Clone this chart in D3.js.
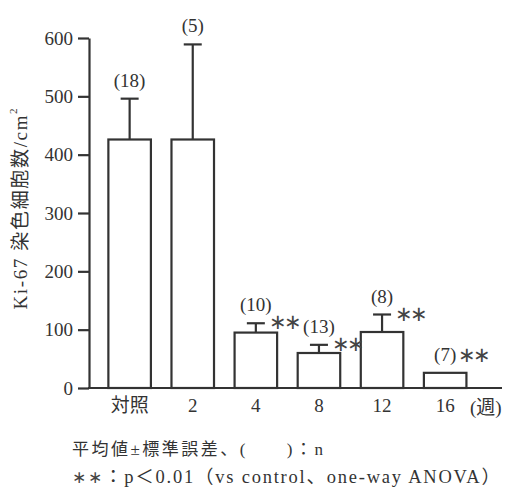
<!DOCTYPE html>
<html>
<head>
<meta charset="utf-8">
<script src="https://cdn.jsdelivr.net/npm/d3@7"></script>
<style>
  html, body { margin: 0; padding: 0; background: #fff; }
  svg { display: block; }
  text { fill: #333; font-family: "Liberation Serif", "Noto Sans CJK JP", serif; }
</style>
</head>
<body>
<div id="chart"></div>
<script>
// Ki-67 positive cell counts per cm² by treatment period
const categories = ["対照", "2", "4", "8", "12", "16"];
const means      = [426, 426, 95, 60, 96, 26];
const sem        = [70, 163, 16, 14, 30, 0];
const nLabels    = ["(18)", "(5)", "(10)", "(13)", "(8)", "(7)"];
const significant = [false, false, true, true, true, true];
const yTicks     = [0, 100, 200, 300, 400, 500, 600];

const W = 509, H = 488;
const plotLeft = 89, plotTop = 38, plotBottom = 388, axisEnd = 502;
const ink = "#333";
const serif = "Liberation Serif, Noto Sans CJK JP, serif";

const svg = d3.select("#chart").append("svg")
  .attr("width", W).attr("height", H);

const y = d3.scaleLinear().domain([0, 600]).range([plotBottom, plotTop]);
const x = d3.scaleBand().domain(categories)
  .range([plotLeft, 485.8]).paddingInner(0.326).paddingOuter(0.307);
const cx = d => x(d.cat) + x.bandwidth() / 2;

const rows = categories.map((c, i) => ({
  cat: c, mean: means[i], sem: sem[i], n: nLabels[i], sig: significant[i]
}));

// y axis
const yAxis = svg.append("g")
  .attr("transform", `translate(${plotLeft},0)`)
  .call(d3.axisLeft(y).tickValues(yTicks).tickSize(11).tickSizeOuter(0).tickPadding(5));
yAxis.select(".domain").attr("stroke", ink).attr("stroke-width", 2.2);
yAxis.selectAll(".tick line").attr("stroke", ink).attr("stroke-width", 2.2);
yAxis.selectAll(".tick text")
  .attr("font-size", 19).attr("font-family", serif).attr("fill", ink);

// bars
svg.append("g").selectAll("rect").data(rows).join("rect")
  .attr("x", d => x(d.cat))
  .attr("y", d => y(d.mean))
  .attr("width", x.bandwidth())
  .attr("height", d => y(0) - y(d.mean))
  .attr("fill", "#fff").attr("stroke", ink).attr("stroke-width", 2.2);

// x baseline
svg.append("line")
  .attr("x1", plotLeft - 1).attr("x2", axisEnd)
  .attr("y1", y(0)).attr("y2", y(0))
  .attr("stroke", ink).attr("stroke-width", 2.2);

// x tick labels
const xAxis = svg.append("g")
  .attr("transform", `translate(0,${y(0)})`)
  .call(d3.axisBottom(x).tickSize(0).tickPadding(11));
xAxis.select(".domain").remove();
xAxis.selectAll(".tick text")
  .attr("font-size", 19).attr("font-family", serif).attr("fill", ink);
svg.append("text")
  .attr("x", 470).attr("y", y(0) + 26)
  .attr("font-size", 19)
  .text("(週)");

// error bars (upper only)
const cap = 18;
const errRows = rows.filter(d => d.sem > 0);
const eb = svg.append("g").attr("stroke", ink).attr("stroke-width", 2.2);
eb.selectAll("line.v").data(errRows).join("line").attr("class", "v")
  .attr("x1", cx).attr("x2", cx)
  .attr("y1", d => y(d.mean)).attr("y2", d => y(d.mean + d.sem));
eb.selectAll("line.c").data(errRows).join("line").attr("class", "c")
  .attr("x1", d => cx(d) - cap / 2)
  .attr("x2", d => cx(d) + cap / 2)
  .attr("y1", d => y(d.mean + d.sem)).attr("y2", d => y(d.mean + d.sem));

// n labels
svg.append("g").selectAll("text").data(rows).join("text")
  .attr("x", cx)
  .attr("y", d => y(d.mean + d.sem) - 12)
  .attr("text-anchor", "middle")
  .attr("font-size", 19)
  .text(d => d.n);

// significance marks
svg.append("g").selectAll("text").data(rows.filter(d => d.sig)).join("text")
  .attr("x", d => cx(d) + 13)
  .attr("y", d => d.sem > 0 ? y(d.mean + d.sem) - 1 : y(d.mean) - 18)
  .attr("dominant-baseline", "central")
  .attr("font-family", "DejaVu Sans")
  .attr("font-size", 21)
  .attr("letter-spacing", -3)
  .style("fill", "#444")
  .text("∗∗");

// y axis title
svg.append("text")
  .attr("transform", "translate(20,209) rotate(-90)")
  .attr("text-anchor", "middle")
  .attr("dominant-baseline", "central")
  .attr("font-size", 19)
  .call(t => {
    t.append("tspan").attr("textLength", 194).attr("lengthAdjust", "spacing")
      .text("Ki-67 染色細胞数/cm");
    t.append("tspan").attr("dy", -7).attr("font-size", 11).text("2");
  });

// footnotes
svg.append("text").attr("x", 72).attr("y", 455).attr("font-size", 17)
  .attr("textLength", 251).attr("lengthAdjust", "spacing")
  .text("平均値±標準誤差、(　　)：n");
svg.append("text").attr("x", 72).attr("y", 483).attr("font-size", 18.5)
  .attr("textLength", 428).attr("lengthAdjust", "spacing")
  .call(t => {
    t.append("tspan").attr("font-family", "DejaVu Sans").attr("font-size", 17).style("fill", "#444").text("∗∗");
    t.append("tspan").text("：p＜0.01（vs control、one-way ANOVA）");
  });
</script>
</body>
</html>
